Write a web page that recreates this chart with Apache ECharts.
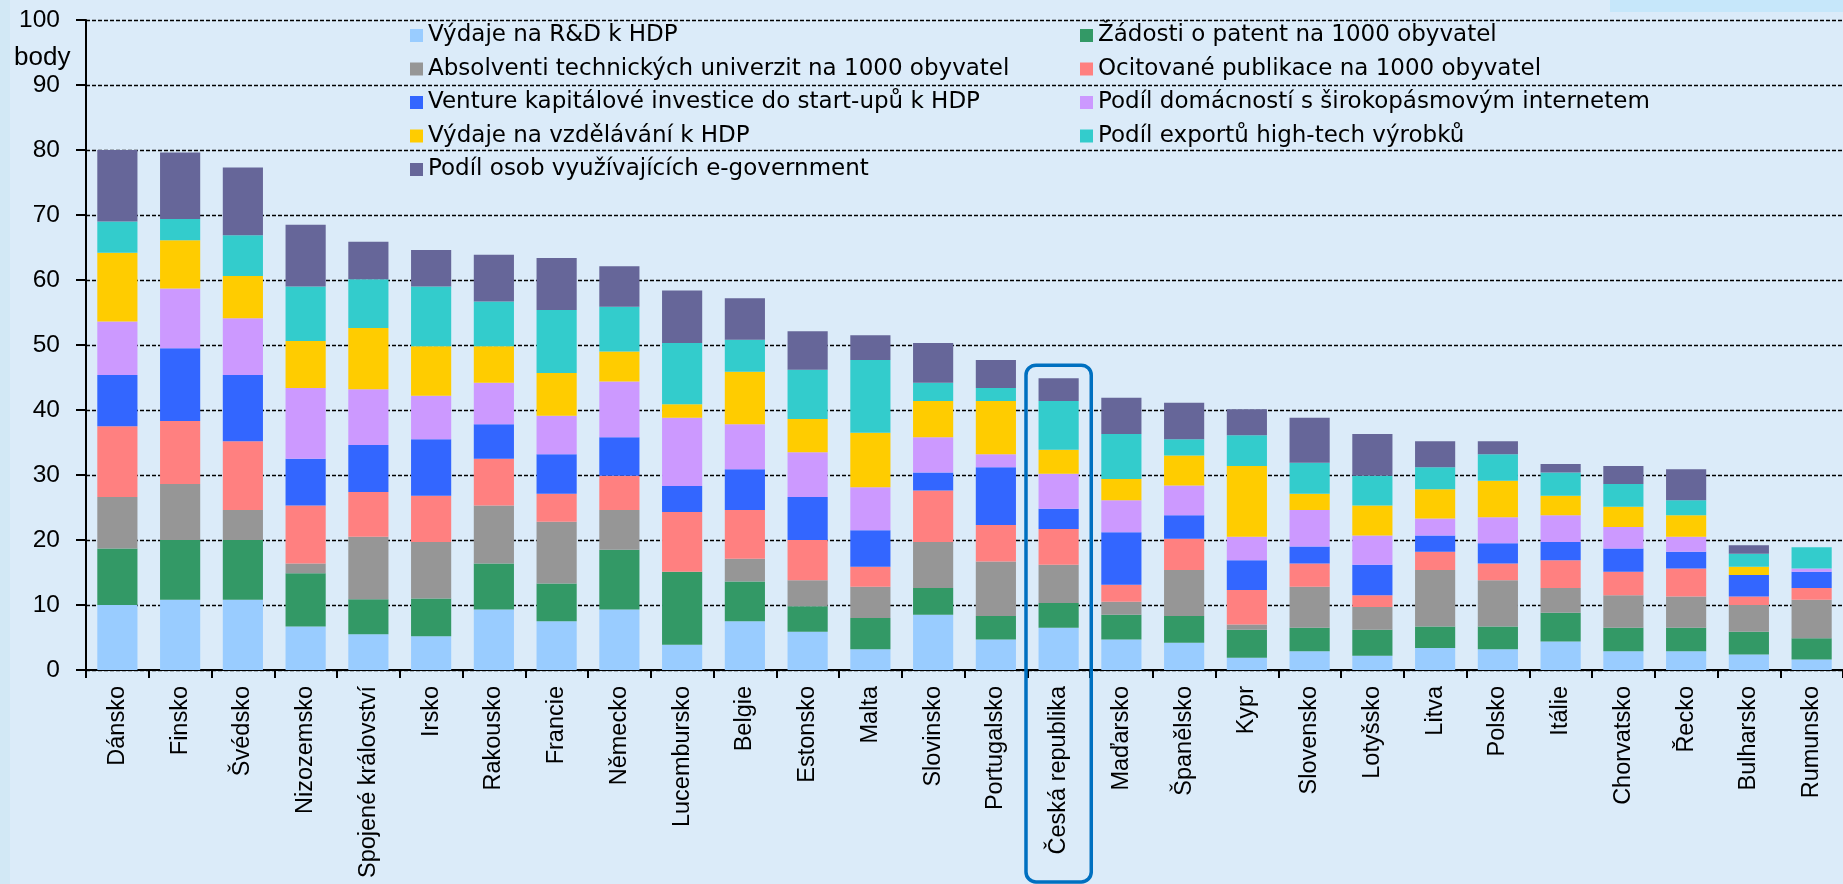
<!DOCTYPE html>
<html>
<head>
<meta charset="utf-8">
<script src="https://cdn.jsdelivr.net/npm/echarts@6/dist/echarts.min.js"></script>
<style>
html,body{margin:0;padding:0;background:#DBEBF9;}
#c{width:1843px;height:884px;}
</style>
</head>
<body>
<div id="c"></div>
<script>
const categories = ['Dánsko','Finsko','Švédsko','Nizozemsko','Spojené království','Irsko','Rakousko','Francie','Německo','Lucembursko','Belgie','Estonsko','Malta','Slovinsko','Portugalsko','Česká republika','Maďarsko','Španělsko','Kypr','Slovensko','Lotyšsko','Litva','Polsko','Itálie','Chorvatsko','Řecko','Bulharsko','Rumunsko'];
const highlighted = 'Česká republika';
const seriesNames = ['Výdaje na R&D k HDP','Žádosti o patent na 1000 obyvatel','Absolventi technických univerzit na 1000 obyvatel','Ocitované publikace na 1000 obyvatel','Venture kapitálové investice do start-upů k HDP','Podíl domácností s širokopásmovým internetem','Výdaje na vzdělávání k HDP','Podíl exportů high-tech výrobků','Podíl osob využívajících e-government'];
const seriesColors = ['#99CCFF','#339966','#969696','#FF8080','#3366FF','#CC99FF','#FFCC00','#33CCCC','#666699'];
const rd        = [10.0,10.8,10.8,6.7,5.5,5.2,9.3,7.5,9.3,3.9,7.5,5.9,3.2,8.5,4.7,6.5,4.7,4.2,1.9,2.9,2.2,3.4,3.2,4.4,2.9,2.9,2.4,1.6];
const patent    = [8.7,9.2,9.2,8.2,5.4,5.8,7.1,5.8,9.2,11.2,6.1,3.9,4.8,4.1,3.6,3.8,3.8,4.1,4.3,3.6,4.0,3.3,3.5,4.4,3.6,3.6,3.5,3.3];
const grads     = [7.9,8.6,4.6,1.5,9.6,8.7,8.9,9.5,6.1,0,3.5,4.0,4.8,7.1,8.4,5.9,2.0,7.1,0.8,6.3,3.5,8.7,7.1,3.8,5.0,4.8,4.1,5.9];
const pubs      = [10.9,9.7,10.6,8.9,6.9,7.1,7.2,4.3,5.3,9.2,7.5,6.2,3.1,7.9,5.6,5.5,2.6,4.8,5.3,3.6,1.8,2.8,2.6,4.3,3.6,4.3,1.3,1.8];
const venture   = [7.9,11.2,10.2,7.2,7.2,8.7,5.3,6.1,5.9,4.0,6.3,6.6,5.6,2.8,8.9,3.1,8.1,3.6,4.6,2.6,4.7,2.5,3.1,2.8,3.6,2.6,3.3,2.5];
const broadband = [8.2,9.2,8.7,10.9,8.6,6.7,6.4,5.9,8.6,10.5,6.9,6.9,6.6,5.4,2.0,5.4,4.9,4.6,3.6,5.6,4.5,2.6,4.0,4.1,3.3,2.3,0,0.5];
const education = [10.6,7.4,6.5,7.2,9.4,7.6,5.6,6.6,4.6,2.1,8.1,5.1,8.4,5.6,8.2,3.7,3.3,4.6,10.9,2.5,4.6,4.5,5.6,3.0,3.1,3.3,1.3,0];
const hitech    = [4.8,3.3,6.3,8.4,7.5,9.2,6.9,9.7,6.9,9.4,4.9,7.6,11.2,2.8,2.0,7.5,6.9,2.5,4.7,4.8,4.6,3.4,4.1,3.6,3.5,2.3,2.0,3.3];
const egov      = [11.0,10.2,10.4,9.5,5.8,5.6,7.2,8.0,6.2,8.1,6.4,5.9,3.8,6.1,4.3,3.5,5.6,5.6,4.0,6.9,6.4,4.0,2.0,1.3,2.8,4.8,1.3,0];
const yTicks = {min:0, max:100, interval:10};
const yUnit = 'body';

const allData = [rd,patent,grads,pubs,venture,broadband,education,hitech,egov];
const FONT = 'Liberation Sans, Arial, sans-serif';
const LFONT = 'DejaVu Sans, sans-serif';

const chart = echarts.init(document.getElementById('c'), null, {renderer:'canvas'});
const series = seriesNames.map((n,i)=>({
  name:n, type:'bar', stack:'total', data:allData[i], barWidth:'64%',
  itemStyle:{color:seriesColors[i]}, emphasis:{disabled:true}
}));
const legendText = {fontFamily:LFONT, fontSize:23, color:'#000', lineHeight:24};
const option = {
  backgroundColor:'#DBEBF9',
  animation:false,
  grid:{left:86, right:0, top:20, bottom:214, containLabel:false},
  legend:[
    {data:[0,2,4,6,8].map(i=>seriesNames[i]), orient:'vertical', left:405, top:18.5, itemWidth:13, itemHeight:13, itemGap:9.5, icon:'rect', textStyle:legendText, selectedMode:false},
    {data:[1,3,5,7].map(i=>seriesNames[i]), orient:'vertical', left:1075, top:18.5, itemWidth:13, itemHeight:13, itemGap:9.5, icon:'rect', textStyle:legendText, selectedMode:false}
  ],
  xAxis:{type:'category', data:categories,
    axisLine:{lineStyle:{color:'#000', width:2}},
    axisTick:{show:true, length:8, lineStyle:{color:'#000', width:2}},
    axisLabel:{rotate:90, margin:16, interval:0, fontFamily:FONT, fontSize:23.5, color:'#000'}
  },
  yAxis:{type:'value', min:yTicks.min, max:yTicks.max, interval:yTicks.interval,
    axisLine:{show:true, lineStyle:{color:'#000', width:2}},
    axisTick:{show:true, length:10, lineStyle:{color:'#000', width:2}},
    axisLabel:{margin:26, fontFamily:FONT, fontSize:24.5, color:'#000'},
    splitLine:{show:true, lineStyle:{color:'#000', width:1.3, type:[4,2]}}
  },
  series:series
};
chart.setOption(option);

// decorations + highlight box anchored via the axes
const idx = categories.indexOf(highlighted);
let total = 0; allData.forEach(a=>total+=a[idx]);
const cx = chart.convertToPixel({xAxisIndex:0}, highlighted);
const yTop = chart.convertToPixel({yAxisIndex:0}, total+2);
const catW = chart.convertToPixel({xAxisIndex:0}, categories[1]) - chart.convertToPixel({xAxisIndex:0}, categories[0]);
const bw = catW*1.04;
const yLabel = chart.convertToPixel({yAxisIndex:0}, 94.2);
chart.setOption({
  graphic:[
    {type:'rect', left:0, top:0, shape:{x:0,y:0,width:10,height:884}, style:{fill:'#D2E8F5'}, silent:true, z:-1},
    {type:'rect', shape:{x:1610,y:0,width:233,height:12}, style:{fill:'#C6E7FA'}, silent:true, z:-1},
    {type:'text', x:14, y:yLabel, style:{text:yUnit, font:'26px '+FONT, fill:'#000', textVerticalAlign:'middle'}, silent:true},
    {type:'rect', shape:{x:cx-bw/2, y:yTop, width:bw, height:882-yTop, r:10}, style:{fill:'none', stroke:'#0070C0', lineWidth:3.5}, silent:true, z:100}
  ]
});
</script>
</body>
</html>
